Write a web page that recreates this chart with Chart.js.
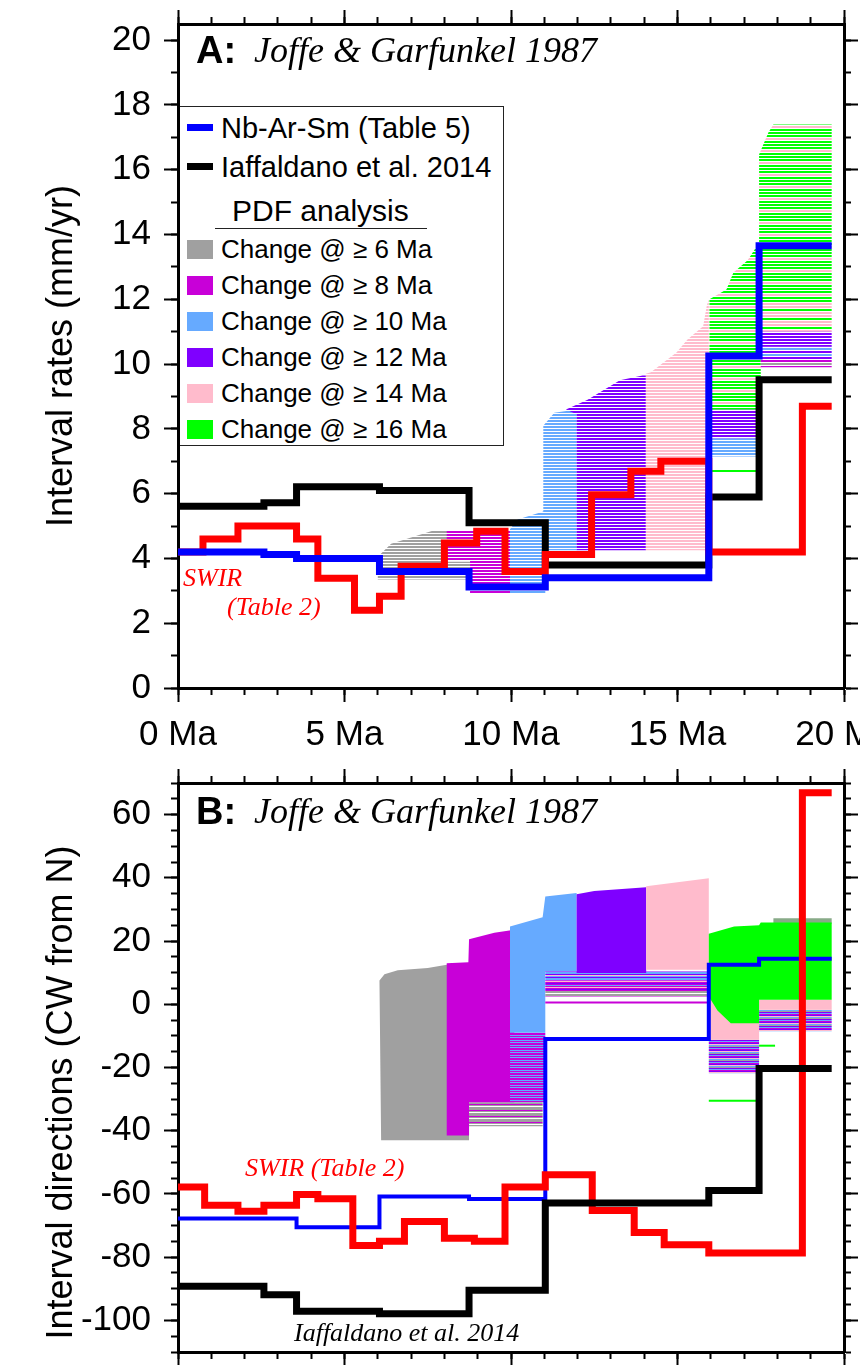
<!DOCTYPE html>
<html>
<head>
<meta charset="utf-8">
<script src="https://cdn.jsdelivr.net/npm/chart.js@4.4.1/dist/chart.umd.min.js"></script>
<style>
  body { margin: 0; background: #fff; }
  #wrap { position: relative; width: 860px; height: 1365px; overflow: hidden;
          font-family: "Liberation Sans", Arial, Helvetica, sans-serif; color: #000; }
  canvas { position: absolute; left: 0; }
  .t { position: absolute; white-space: nowrap; line-height: 1; }
  .it { font-family: "Liberation Serif", "Times New Roman", serif; font-style: italic; }
  .lg { font-size: 26px; left: 221px; }
  .lg2 { font-size: 29px; left: 221px; }
  .sw { position: absolute; left: 187px; width: 26px; }
  #legend { position: absolute; left: 179.5px; top: 106px; width: 324px; height: 340px;
            box-sizing: border-box; border: 1.5px solid #222; border-left: none; background: #fff; }
</style>
</head>
<body>
<div id="wrap">
  <canvas id="cA" width="860" height="760" style="top:0"></canvas>
  <canvas id="cB" width="860" height="605" style="top:760px"></canvas>

  <div class="t" style="left:196px;top:31px;font-size:38px;font-weight:bold">A:</div>
  <div class="t it" style="left:254px;top:32px;font-size:36px">Joffe &amp; Garfunkel 1987</div>
  <div class="t" style="left:196px;top:792px;font-size:38px;font-weight:bold">B:</div>
  <div class="t it" style="left:254px;top:793px;font-size:36px">Joffe &amp; Garfunkel 1987</div>

  <div id="legend"></div>
  <div class="sw" style="top:124px;height:7px;background:#0000ff"></div>
  <div class="t lg2" style="top:113.5px">Nb-Ar-Sm (Table 5)</div>
  <div class="sw" style="top:163px;height:7px;background:#000"></div>
  <div class="t lg2" style="top:152.5px">Iaffaldano et al. 2014</div>
  <div class="t" style="left:232px;top:196px;font-size:30px">PDF analysis</div>
  <div style="position:absolute;left:215px;top:228px;width:212px;border-top:1.5px solid #222"></div>
  <div class="sw" style="top:239.5px;height:19px;background:#a0a0a0"></div>
  <div class="t lg" style="top:236px">Change @ ≥ 6 Ma</div>
  <div class="sw" style="top:275.5px;height:19px;background:#c800d8"></div>
  <div class="t lg" style="top:272px">Change @ ≥ 8 Ma</div>
  <div class="sw" style="top:311.5px;height:19px;background:#66aaff"></div>
  <div class="t lg" style="top:308px">Change @ ≥ 10 Ma</div>
  <div class="sw" style="top:347.5px;height:19px;background:#7f00ff"></div>
  <div class="t lg" style="top:344px">Change @ ≥ 12 Ma</div>
  <div class="sw" style="top:383.5px;height:19px;background:#ffbbcc"></div>
  <div class="t lg" style="top:380px">Change @ ≥ 14 Ma</div>
  <div class="sw" style="top:419.5px;height:19px;background:#00ff00"></div>
  <div class="t lg" style="top:416px">Change @ ≥ 16 Ma</div>

  <div class="t it" style="left:183px;top:565px;font-size:26px;color:#ff0000">SWIR</div>
  <div class="t it" style="left:227px;top:594px;font-size:26px;color:#ff0000">(Table 2)</div>
  <div class="t it" style="left:245px;top:1155px;font-size:26px;color:#ff0000">SWIR (Table 2)</div>
  <div class="t it" style="left:294px;top:1320px;font-size:26px">Iaffaldano et al. 2014</div>
</div>

<script>
// ---------- step lines: interval boundaries (Ma) and values ----------
// A: interval rates (mm/yr)
const blackA_t = [0, 2.58, 3.56, 6.05, 8.74, 11.03, 15.94, 17.45, 19.63];
const blackA_v = [5.61, 5.72, 6.21, 6.10, 5.10, 3.80, 5.90, 9.52];
const redA_t = [0, 0.75, 1.8, 3.56, 4.2, 5.3, 6.05, 6.7, 8.0, 8.97, 9.82, 11.03, 12.42, 13.6, 14.5, 15.94, 18.75, 19.63];
const redA_v = [4.2, 4.6, 5.0, 4.6, 3.39, 2.4, 2.83, 3.76, 4.48, 4.84, 3.6, 4.12, 5.97, 6.69, 7.0, 4.2, 8.7];
const blueA_t = [0, 2.58, 3.56, 6.05, 8.74, 11.03, 15.94, 17.45, 19.63];
const blueA_v = [4.2, 4.12, 4.0, 3.6, 3.12, 3.4, 10.25, 13.65];

// B: interval directions (deg CW from N)
const blackB_t = [0, 2.58, 3.56, 6.05, 8.74, 11.03, 15.94, 17.45, 19.63];
const blackB_v = [-89.2, -91.9, -97.1, -97.9, -90.5, -62.9, -58.9, -20.3];
const redB_t = [0, 0.8, 1.8, 2.58, 3.56, 4.2, 5.25, 6.05, 6.8, 8.0, 8.9, 9.82, 11.03, 12.44, 13.7, 14.6, 15.94, 18.75, 19.63];
const redB_v = [-57.8, -63.6, -65.5, -63.6, -60.2, -61.5, -76.3, -75.0, -68.7, -74.0, -75.0, -57.8, -53.9, -65.2, -72.2, -76.1, -78.7, 66.9];
const blueB_t = [0, 3.56, 6.05, 8.74, 11.03, 15.94, 17.45, 19.63];
const blueB_v = [-67.8, -70.5, -60.8, -61.6, -11.0, 12.5, 14.4];

// ---------- PDF analysis clouds, outlines as [Ma, value] ----------
const cloudA_gray = [[6.0,3.35],[6.0,4.05],[6.4,4.45],[7.0,4.65],[7.67,4.86],[8.1,4.86],[8.1,3.9],[8.77,3.9],[8.77,3.35]];
const cloudA_magenta = [[8.07,4.86],[8.07,3.95],[8.77,3.95],[8.77,2.93],[10.0,2.93],[10.0,4.86]];
const cloudA_lightblue = [[9.97,2.93],[9.97,4.9],[10.2,5.2],[10.97,5.45],[10.97,8.1],[11.3,8.5],[11.97,8.6],[11.97,4.25],[11.03,4.25],[11.03,2.93]];
const cloudA_purple = [[11.97,4.25],[11.97,8.45],[11.65,8.6],[12.3,8.9],[13.27,9.5],[13.95,9.65],[14.05,9.65],[14.05,4.25]];
const cloudA_pink = [[14.05,4.25],[14.05,9.7],[14.2,9.75],[14.97,10.36],[15.3,10.76],[15.77,11.17],[15.88,11.8],[15.94,12.0],[15.94,4.25]];
const cloudA_green = [[15.96,8.6],[15.96,12.0],[16.47,12.3],[16.68,12.83],[17.1,13.2],[17.45,13.75],[17.45,16.47],[17.73,17.15],[17.88,17.4],[19.63,17.4],[19.63,11.9],[17.5,11.9],[17.5,8.6]];
const cloudA_pinkR = [[17.5,11.0],[17.5,11.9],[19.63,11.9],[19.63,11.0]];
const cloudA_purpleR = [[17.5,10.55],[17.5,11.0],[19.63,11.0],[19.63,10.55]];
const cloudA_lightblueR = [[17.5,10.15],[17.5,10.55],[19.63,10.55],[19.63,10.15]];
const cloudA_magentaR = [[17.5,9.9],[17.5,10.15],[19.63,10.15],[19.63,9.9]];
const cloudA_purpleL = [[15.96,7.7],[15.96,8.6],[17.45,8.6],[17.45,7.7]];
const cloudA_lightblueL = [[15.96,7.15],[15.96,7.7],[17.45,7.7],[17.45,7.15]];
const lineA_green = [[15.96,6.7],[17.45,6.7]];

const cloudB_gray = [[6.1,-43],[6.05,7.5],[6.2,9.5],[6.6,10.8],[7.5,11.5],[8.07,12.5],[8.74,12.5],[8.74,-43]];
const cloudB_grayLow = [[8.74,-31],[8.74,-38.6],[10.95,-38.6],[10.95,-31]];
const cloudB_magenta = [[8.07,13.0],[8.72,13.3],[8.74,20.6],[9.5,22.6],[10.1,23.6],[10.1,-31],[8.74,-31],[8.74,-41.5],[8.07,-41.5]];
const cloudB_lightblue = [[9.97,-9],[9.97,24.6],[10.95,27.5],[11.03,34.1],[11.97,35.2],[11.97,10.4],[11.03,10.4],[11.03,-9]];
const cloudB_lightblueLow = [[9.97,-31],[9.97,-9],[11.03,-9],[11.03,-31]];
const cloudB_midBlue = [[11.03,7.5],[11.03,10.4],[15.94,10.4],[15.94,7.5]];
const cloudB_midMagenta = [[11.03,4.5],[11.03,7.5],[15.94,7.5],[15.94,4.5]];
const cloudB_midGray = [[11.03,2.5],[11.03,4.5],[15.94,4.5],[15.94,2.5]];
const cloudB_purple = [[11.97,9.9],[11.97,34.8],[12.5,35.8],[14.06,37.0],[14.06,9.9]];
const cloudB_pink = [[14.06,10.9],[14.06,37.3],[15.0,38.6],[15.94,39.9],[15.94,10.9]];
const cloudB_mixLow = [[15.94,-21.8],[15.94,-11.2],[17.45,-11.2],[17.45,-21.8]];
const cloudB_pinkLow = [[15.94,-11.2],[15.94,2.5],[17.45,2.5],[17.45,-11.2]];
const cloudB_mixR = [[17.45,-8.5],[17.45,-1.7],[19.63,-1.7],[19.63,-8.5]];
const cloudB_pinkR = [[17.45,-1.7],[17.45,1.4],[19.63,1.4],[19.63,-1.7]];
const cloudB_grayTop = [[17.88,25.5],[17.88,27.2],[19.63,27.2],[19.63,25.5]];
const cloudB_green = [[15.94,2.5],[15.94,22.3],[16.7,24.6],[17.45,25.0],[17.5,25.9],[19.63,25.9],[19.63,1.4],[17.45,1.4],[17.45,-6],[16.6,-6],[16.2,-2]];
const lineB_magenta = [[11.03,0.6],[15.94,0.6]];
const lineB_green1 = [[15.94,-30.5],[17.42,-30.5]];
const lineB_green2 = [[17.45,-13.1],[17.93,-13.1]];

// ---------- axes ----------
const xMajor = [0, 5, 10, 15, 20];
const yMajorA = [0, 2, 4, 6, 8, 10, 12, 14, 16, 18, 20];
const yMajorB = [-100, -80, -60, -40, -20, 0, 20, 40, 60];
function seq(a, b, s) { const r = []; for (let v = a; v <= b + 1e-9; v += s) r.push(v); return r; }
const xMinor = seq(0, 20, 1);
const yMinorA = seq(0, 20, 1);
const yMinorB = seq(-110, 70, 5);

const FONT = '"Liberation Sans", Arial, Helvetica, sans-serif';
const C = {gray: '#a0a0a0', magenta: '#c800d8', lightblue: '#66aaff', purple: '#7f00ff', pink: '#ffbbcc', green: '#00ff00'};

function stripes(color, on, off) {
  const c = document.createElement('canvas');
  c.width = 4; c.height = on + off;
  const g = c.getContext('2d');
  g.fillStyle = color; g.fillRect(0, 0, 4, on);
  return g.createPattern(c, 'repeat');
}
function rows(colors, h) {
  const c = document.createElement('canvas');
  c.width = 4; c.height = colors.length * h;
  const g = c.getContext('2d');
  colors.forEach((col, i) => { if (col) { g.fillStyle = col; g.fillRect(0, i * h, 4, h); } });
  return g.createPattern(c, 'repeat');
}
function pts(pairs) { return pairs.map(p => ({x: p[0], y: p[1]})); }
function steps(t, v) { return t.map((x, i) => ({x: x, y: v[Math.min(i, v.length - 1)]})); }

let ord = 200;
function area(pairs, style) {
  return {data: pts(pairs), fill: 'shape', backgroundColor: style, borderColor: 'rgba(0,0,0,0)',
          borderWidth: 0, pointRadius: 0, order: ord--};
}
function seg(pairs, color, w) {
  return {data: pts(pairs), fill: false, borderColor: color, borderWidth: w, pointRadius: 0, order: ord--};
}
function stepLine(t, v, color, w, order) {
  return {data: steps(t, v), stepped: 'before', fill: false, borderColor: color, borderWidth: w,
          pointRadius: 0, borderJoinStyle: 'miter', borderCapStyle: 'butt', order: order};
}

function fixTicks(list) { return s => { s.ticks = list.map(v => ({value: v})); }; }
function fixSize(w, h) {
  return s => {
    if (w !== null) s.width = w;
    if (h !== null) s.height = h;
    s.paddingLeft = 0; s.paddingRight = 0; s.paddingTop = 0; s.paddingBottom = 0;
  };
}
function tickAxis(axis, pos, min, max, list, len, weight, w, h, extra) {
  return Object.assign({
    type: 'linear', axis: axis, position: pos, min: min, max: max, weight: weight,
    afterBuildTicks: fixTicks(list), afterFit: fixSize(w, h),
    grid: {display: true, drawOnChartArea: false, drawTicks: true, tickLength: len, tickWidth: 2, tickColor: '#000'},
    border: {display: true, color: '#000', width: 3},
    ticks: {display: false}
  }, extra || {});
}

function panelScales(yMin, yMax, yMajor, yMinor, title, xLabels, bottomH, topH) {
  const xExtra = xLabels ? {ticks: {display: true, autoSkip: false, maxRotation: 0, padding: 12, color: '#000',
                                    font: {family: FONT, size: 35}, callback: v => v + ' Ma'}} : {};
  return {
    x: tickAxis('x', 'bottom', 0, 20, xMajor, 14, 1, null, bottomH, xExtra),
    xMinor: tickAxis('x', 'bottom', 0, 20, xMinor, 7, 0, null, 0),
    xTop: tickAxis('x', 'top', 0, 20, xMajor, 14, 1, null, topH),
    xTopMinor: tickAxis('x', 'top', 0, 20, xMinor, 7, 0, null, 0),
    y: tickAxis('y', 'left', yMin, yMax, yMajor, 14, 1, 178, null, {
      ticks: {display: true, autoSkip: false, padding: 13, color: '#000', font: {family: FONT, size: 35}, callback: v => String(v)},
      title: {display: true, text: title, color: '#000', font: {family: FONT, size: 36}, padding: {top: 40, bottom: 0}}
    }),
    yMinor: tickAxis('y', 'left', yMin, yMax, yMinor, 7, 0, 0, null),
    yRight: tickAxis('y', 'right', yMin, yMax, yMajor, 14, 1, 16, null),
    yRightMinor: tickAxis('y', 'right', yMin, yMax, yMinor, 7, 0, 0, null)
  };
}

function makeChart(id, datasets, scales, padTop) {
  return new Chart(document.getElementById(id), {
    type: 'line',
    data: {datasets: datasets},
    options: {
      responsive: false, animation: false, events: [],
      layout: {padding: {top: padTop, left: 0, right: 0, bottom: 0}, autoPadding: false},
      plugins: {legend: {display: false}, tooltip: {enabled: false}},
      scales: scales
    }
  });
}

// ---------- panel A ----------
const dsA = [
  area(cloudA_gray, stripes(C.gray, 2, 1)),
  area(cloudA_magenta, stripes(C.magenta, 2, 1)),
  area(cloudA_lightblue, stripes(C.lightblue, 2, 1)),
  area(cloudA_purple, stripes(C.purple, 2, 1)),
  area(cloudA_pink, stripes(C.pink, 2, 1)),
  area(cloudA_purpleL, stripes(C.purple, 2, 1)),
  area(cloudA_lightblueL, stripes(C.lightblue, 2, 1)),
  area(cloudA_green, rows([C.green, C.green, '', C.green, C.green, '', C.pink, C.pink, '', C.green, C.green, ''], 1)),
  area(cloudA_pinkR, rows([C.pink, C.pink, '', C.green, C.green, '', C.pink, C.pink, ''], 1)),
  area(cloudA_purpleR, stripes(C.purple, 2, 1)),
  area(cloudA_lightblueR, rows([C.lightblue, C.lightblue, '', C.purple, C.purple, ''], 1)),
  area(cloudA_magentaR, rows([C.magenta, C.magenta, '', C.gray, C.gray, ''], 1)),
  seg(lineA_green, C.green, 2),
  stepLine(blackA_t, blackA_v, '#000000', 7, 3),
  stepLine(redA_t, redA_v, '#ff0000', 7, 2),
  stepLine(blueA_t, blueA_v, '#0000ff', 7, 1)
];
makeChart('cA', dsA, panelScales(0, 20.5, yMajorA, yMinorA, 'Interval rates (mm/yr)', true, 72, 14), 10);

// ---------- panel B ----------
ord = 200;
const dsB = [
  area(cloudB_gray, C.gray),
  area(cloudB_grayLow, rows([C.gray, C.gray, C.magenta, C.gray, '', C.gray], 1)),
  area(cloudB_magenta, C.magenta),
  area(cloudB_lightblue, C.lightblue),
  area(cloudB_lightblueLow, rows([C.lightblue, C.magenta, C.lightblue, C.magenta, C.magenta], 1)),
  area(cloudB_midBlue, rows([C.lightblue, C.purple, C.lightblue, C.lightblue, C.purple, C.pink], 1)),
  area(cloudB_midMagenta, rows([C.magenta, C.purple, C.magenta, C.lightblue, C.magenta, C.pink], 1)),
  area(cloudB_midGray, rows([C.gray, C.gray, C.magenta, C.gray, C.gray, ''], 1)),
  area(cloudB_purple, C.purple),
  area(cloudB_pink, C.pink),
  seg(lineB_magenta, C.magenta, 2),
  area(cloudB_mixLow, rows([C.purple, C.lightblue, C.magenta, C.purple, C.pink, C.lightblue, C.gray], 1)),
  area(cloudB_pinkLow, C.pink),
  area(cloudB_mixR, rows([C.purple, C.lightblue, C.magenta, C.purple, C.pink, C.lightblue, C.gray], 1)),
  area(cloudB_pinkR, C.pink),
  area(cloudB_grayTop, '#88aa88'),
  area(cloudB_green, C.green),
  seg(lineB_green1, C.green, 2),
  seg(lineB_green2, C.green, 2),
  stepLine(blueB_t, blueB_v, '#0000ff', 4, 3),
  stepLine(redB_t, redB_v, '#ff0000', 7, 2),
  stepLine(blackB_t, blackB_v, '#000000', 7, 1)
];
const titleB = 'Interval directions (CW from N)' + '\u00a0\u00a0\u00a0\u00a0\u00a0';
makeChart('cB', dsB, panelScales(-110, 70, yMajorB, yMinorB, titleB, false, 13, 14), 9);
</script>
</body>
</html>
